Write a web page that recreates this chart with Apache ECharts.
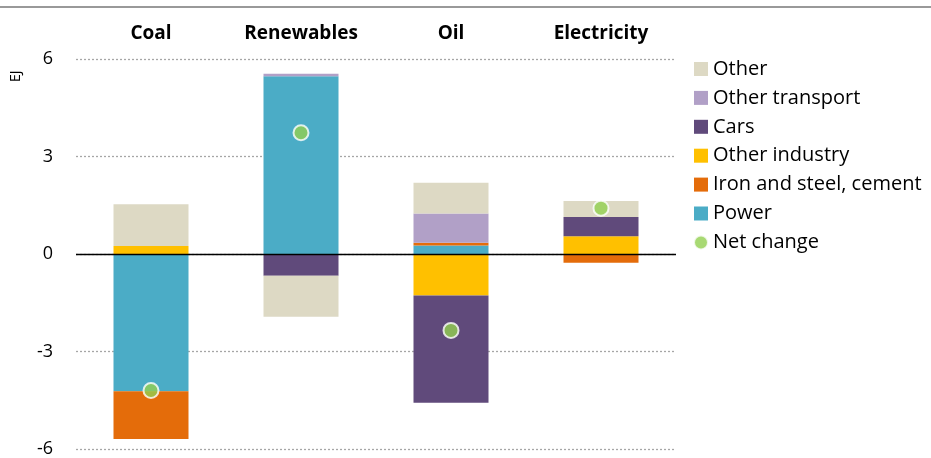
<!DOCTYPE html>
<html><head><meta charset="utf-8">
<script src="https://cdn.jsdelivr.net/npm/echarts@6/dist/echarts.min.js"></script>
<style>html,body{margin:0;padding:0;background:#fff}#c{width:931px;height:458px}</style>
</head><body><div id="c"></div>
<script>
const categories = ['Coal', 'Renewables', 'Oil', 'Electricity'];
const power = [-4.22, 5.47, 0.26, 0];
const ironSteel = [-1.47, 0, 0.09, -0.27];
const otherIndustry = [0.25, 0, -1.28, 0.55];
const cars = [0, -0.67, -3.3, 0.59];
const otherTransport = [0, 0.08, 0.9, 0];
const other = [1.28, -1.26, 0.94, 0.49];
const netChange = [-4.2, 3.73, -2.35, 1.41];
const yTicks = [-6, -3, 0, 3, 6];

const font = '"Open Sans", Lato, sans-serif';
const chart = echarts.init(document.getElementById('c'));
function bar(name, data, color) {
  return { name, type: 'bar', stack: 'a', data, barWidth: '50%',
    itemStyle: { color }, emphasis: { disabled: true } };
}
chart.setOption({
  animation: false,
  textStyle: { fontFamily: font },
  grid: { left: 76, right: 255, top: 59, bottom: 6 },
  graphic: [
    { type: 'rect', shape: { x: 0, y: 6, width: 931, height: 2 }, style: { fill: '#999' } },
    { type: 'text', x: 9, y: 82, rotation: Math.PI / 2,
      style: { text: 'EJ', fontSize: 14, fontFamily: font, fill: '#000' } }
  ],
  legend: {
    orient: 'vertical', left: 688, top: 54, itemWidth: 14, itemHeight: 14, itemGap: 8.9,
    textStyle: { fontSize: 20, color: '#000', fontFamily: font },
    data: [
      { name: 'Other', icon: 'rect' }, { name: 'Other transport', icon: 'rect' },
      { name: 'Cars', icon: 'rect' }, { name: 'Other industry', icon: 'rect' },
      { name: 'Iron and steel, cement', icon: 'rect' }, { name: 'Power', icon: 'rect' },
      { name: 'Net change', icon: 'circle' }
    ]
  },
  xAxis: {
    type: 'category', data: categories, position: 'top',
    axisLine: { show: false }, axisTick: { show: false },
    axisLabel: { fontSize: 19, fontWeight: 'bold', color: '#000', margin: 16 }
  },
  yAxis: {
    type: 'value', min: yTicks[0], max: yTicks[yTicks.length - 1], interval: 3,
    axisLine: { show: false }, axisTick: { show: false },
    axisLabel: { fontSize: 18, color: '#000', margin: 23,
      formatter: v => yTicks.includes(v) ? String(v) : '' },
    splitLine: { lineStyle: { color: '#A6A6A6', type: [2, 2], width: 1.3 } }
  },
  series: [
    Object.assign(bar('Power', power, '#4BACC6'), {
      markLine: { silent: true, symbol: 'none', label: { show: false },
        lineStyle: { color: '#000', type: 'solid', width: 1.3 }, data: [{ yAxis: 0 }] }
    }),
    bar('Iron and steel, cement', ironSteel, '#E46C0A'),
    bar('Other industry', otherIndustry, '#FFC000'),
    bar('Cars', cars, '#604A7B'),
    bar('Other transport', otherTransport, '#B1A0C7'),
    bar('Other', other, '#DDD9C4'),
    { name: 'Net change', type: 'scatter', data: netChange, symbolSize: 15, z: 10,
      itemStyle: { color: '#92D050', borderColor: '#fff', borderWidth: 2 } }
  ]
});
</script></body></html>
